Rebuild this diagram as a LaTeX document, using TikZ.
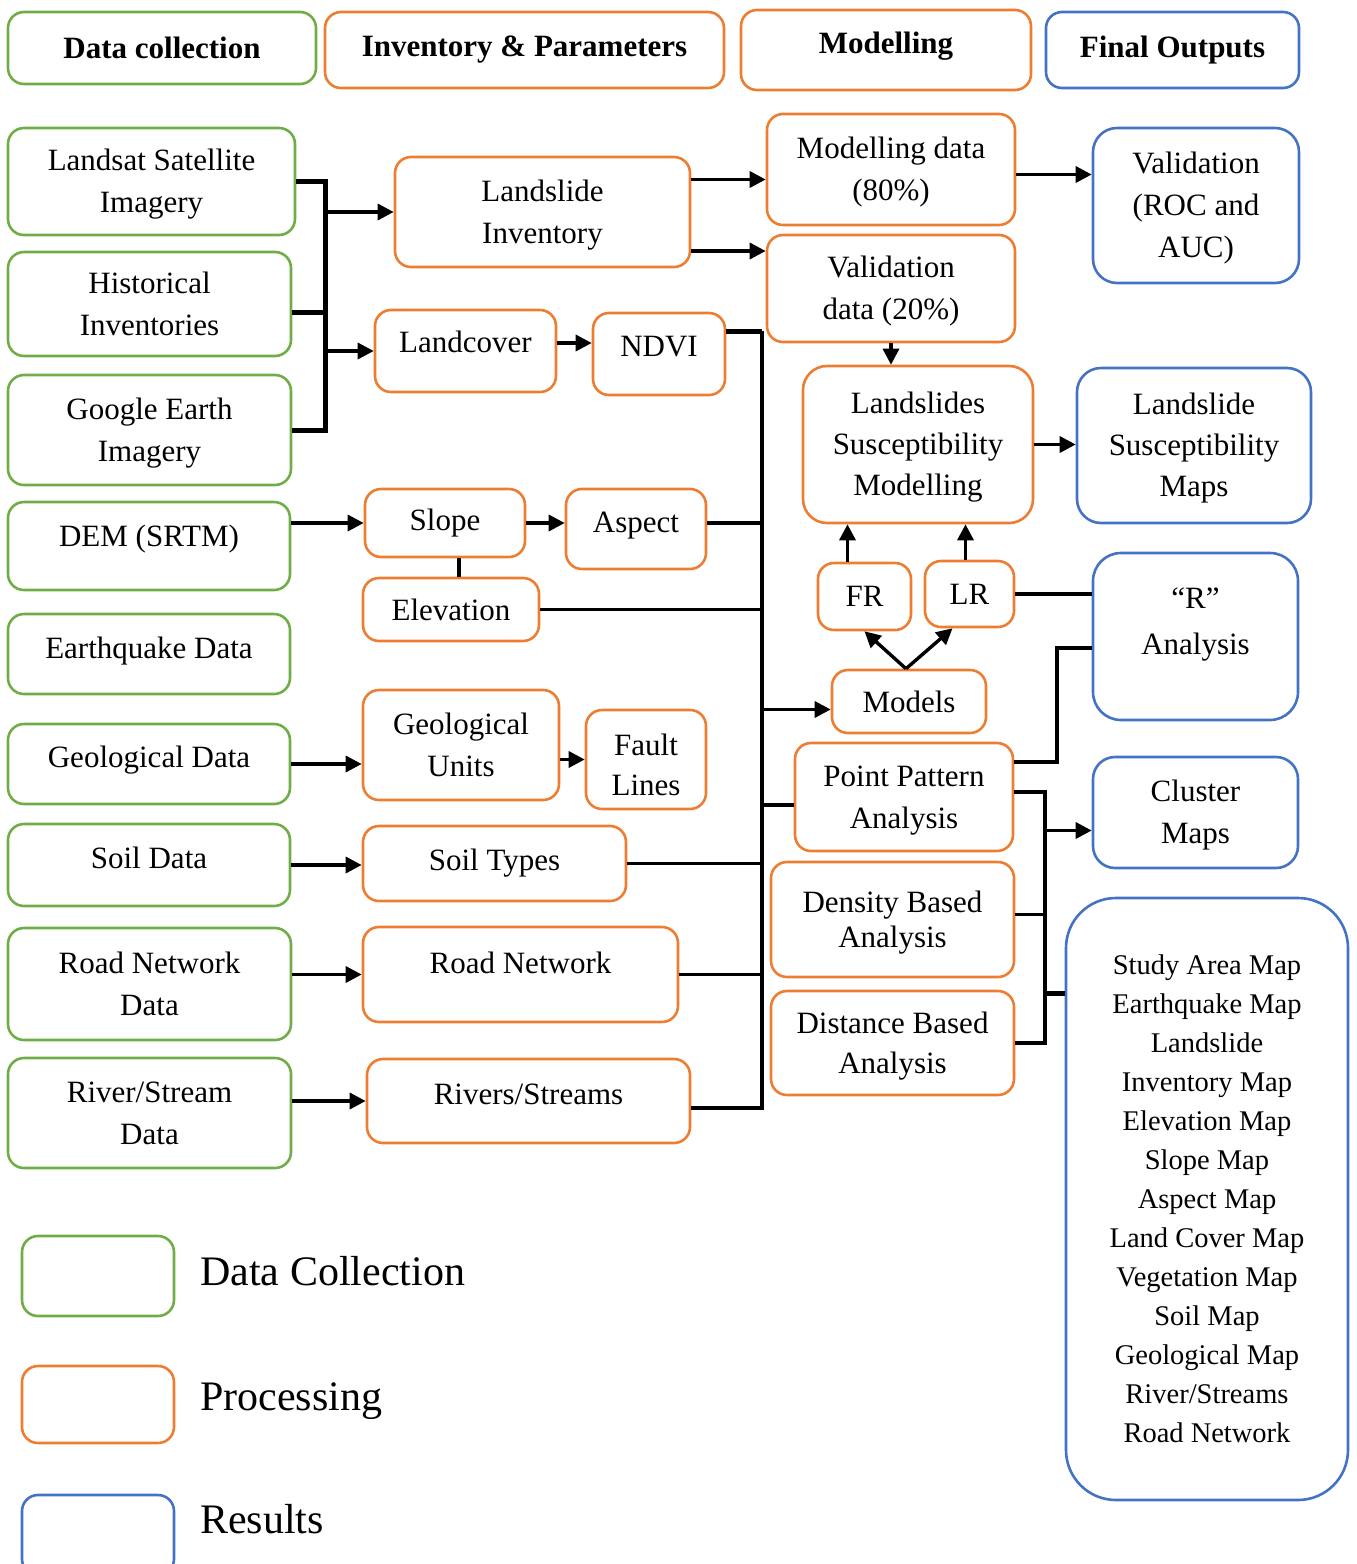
\documentclass[tikz,border=0pt]{standalone}
\usepackage{fontspec}
\setmainfont{Liberation Serif}
\usetikzlibrary{arrows.meta}
\definecolor{dcgreen}{RGB}{112,173,71}
\definecolor{procorange}{RGB}{237,125,49}
\definecolor{resblue}{RGB}{68,114,196}
\begin{document}
\begin{tikzpicture}
  [x=1pt,y=-1pt,
   every node/.style={rounded corners=16pt,line width=2.6pt,align=center,inner sep=3pt,
     font=\fontsize{31}{42}\selectfont},
   sz/.style 2 args={minimum width=#1,minimum height=#2},
   gbox/.style={draw=dcgreen},
   obox/.style={draw=procorange},
   bbox/.style={draw=resblue},
   hd/.style={font=\fontsize{31}{42}\selectfont\bfseries},
   tlift/.style={text depth=#1},
   tl/.style={text height=#1,text depth=6.7pt},
   tl/.default=69.5pt,
   ln/.style={line width=3.4pt},
   bus/.style={line width=5pt},
   arr/.style={line width=3.4pt,-{Triangle[length=16pt,width=16pt]}}]
  \useasboundingbox (0,0) rectangle (1357,1564);

  % column headers
  \node[gbox,hd,sz={308pt}{72pt}] (hdc) at (162,48) {Data collection};
  \node[obox,hd,sz={399pt}{76pt}] (hinv) at (524.5,50) {Inventory \& Parameters};
  \node[obox,hd,sz={290pt}{80pt},tlift=14pt] (hmod) at (886,50) {Modelling};
  \node[bbox,hd,sz={253pt}{76pt}] (hout) at (1172.5,50) {Final Outputs};

  % data collection
  \node[gbox,sz={287pt}{107pt},tl] (landsat) at (151.5,181.5) {Landsat Satellite\\Imagery};
  \node[gbox,sz={283pt}{104pt},tl] (hist) at (149.5,304) {Historical\\Inventories};
  \node[gbox,sz={283pt}{110pt},tl] (google) at (149.5,430) {Google Earth\\Imagery};
  \node[gbox,sz={282pt}{88pt},tlift=20pt] (dem) at (149,546) {DEM (SRTM)};
  \node[gbox,sz={282pt}{80pt},tlift=12pt] (quake) at (149,654) {Earthquake Data};
  \node[gbox,sz={282pt}{80pt},tlift=14pt] (geodata) at (149,764) {Geological Data};
  \node[gbox,sz={282pt}{82pt},tlift=14pt] (soildata) at (149,865) {Soil Data};
  \node[gbox,sz={283pt}{112pt},tl] (roaddata) at (149.5,984) {Road Network\\Data};
  \node[gbox,sz={283pt}{110pt},tl] (riverdata) at (149.5,1113) {River/Stream\\Data};

  % inventory and parameters
  \node[obox,sz={295pt}{110pt},tl] (inv) at (542.5,212) {Landslide\\Inventory};
  \node[obox,sz={181pt}{82pt},tlift=19pt] (lcover) at (465.5,351) {Landcover};
  \node[obox,sz={132pt}{82pt},tlift=16pt] (ndvi) at (659,354) {NDVI};
  \node[obox,sz={160pt}{68pt}] (slope) at (445,523) {Slope};
  \node[obox,sz={140pt}{80pt},tlift=13pt] (aspect) at (636,529) {Aspect};
  \node[obox,sz={176pt}{63pt}] (elev) at (451,609.5) {Elevation};
  \node[obox,sz={196pt}{110pt},tl] (geounits) at (461,745) {Geological\\Units};
  \node[obox,sz={120pt}{99pt},text height=71pt,text depth=0pt,font=\fontsize{31}{40}\selectfont] (fault) at (646,759.5)
    {Fault\\Lines};
  \node[obox,sz={263pt}{75pt}] (soiltypes) at (494.5,863.5) {Soil Types};
  \node[obox,sz={315pt}{95pt},tlift=24pt] (road) at (520.5,974.5) {Road Network};
  \node[obox,sz={323pt}{84pt},tlift=14pt] (rivers) at (528.5,1101) {Rivers/Streams};

  % modelling
  \node[obox,sz={248pt}{111pt},tl] (moddata) at (891,169.5) {Modelling data\\(80\%)};
  \node[obox,sz={248pt}{107pt},tl] (valdata) at (891,288.5) {Validation\\data (20\%)};
  \node[obox,sz={230pt}{157pt},rounded corners=24pt,tl=109.5pt,font=\fontsize{31}{41}\selectfont] (lsm) at (918,444.5)
    {Landslides\\Susceptibility\\Modelling};
  \node[obox,sz={93pt}{67pt}] (fr) at (864.5,596.5) {FR};
  \node[obox,sz={89pt}{66pt}] (lr) at (969.5,594) {LR};
  \node[obox,sz={154pt}{63pt}] (models) at (909,701.5) {Models};
  \node[obox,sz={218pt}{108pt},tl] (ppa) at (904,797) {Point Pattern\\Analysis};
  \node[obox,sz={243pt}{115pt},tl=62.5pt,font=\fontsize{31}{35}\selectfont] (dba) at (892.5,919.5) {Density Based\\Analysis};
  \node[obox,sz={243pt}{104pt},tl=67.5pt,font=\fontsize{31}{40}\selectfont] (dist) at (892.5,1043) {Distance Based\\Analysis};

  % final outputs
  \node[bbox,sz={206pt}{155pt},rounded corners=24pt,tl=111.5pt] (valroc) at (1196,205.5) {Validation\\(ROC and\\AUC)};
  \node[bbox,sz={234pt}{155pt},rounded corners=24pt,tl=109.5pt,font=\fontsize{31}{41}\selectfont] (lsmaps) at (1194,445.5)
    {Landslide\\Susceptibility\\Maps};
  \node[bbox,sz={205pt}{167pt},rounded corners=28pt,text height=73.5pt,text depth=38.5pt,
    font=\fontsize{31}{46}\selectfont] (ranal) at (1195.5,636.5) {“R”\\Analysis};
  \node[bbox,sz={205pt}{111pt},rounded corners=22pt,tl] (cluster) at (1195.5,812.5) {Cluster\\Maps};
  \node[bbox,sz={282pt}{602pt},rounded corners=50pt,font=\fontsize{28.5}{39}\selectfont] (outlist) at (1207,1199)
    {Study Area Map\\Earthquake Map\\Landslide\\Inventory Map\\Elevation Map\\Slope Map\\Aspect Map\\
     Land Cover Map\\Vegetation Map\\Soil Map\\Geological Map\\River/Streams\\Road Network};

  % legend
  \node[gbox,sz={152pt}{80pt}] (legdc) at (98,1276) {};
  \node[obox,sz={152pt}{77pt}] (legpr) at (98,1404.5) {};
  \node[bbox,sz={152pt}{80pt}] (legres) at (98,1535) {};
  \node[anchor=base west,font=\fontsize{42}{48}\selectfont] (legdctxt) at (196,1285) {Data Collection};
  \node[anchor=base west,font=\fontsize{42}{48}\selectfont] (legprtxt) at (196,1410) {Processing};
  \node[anchor=base west,font=\fontsize{42}{48}\selectfont] (legrestxt) at (196,1533) {Results};

  % helper points
  \coordinate (brktop) at (325,181.5);
  \coordinate (brkbot) at (325,430);
  \coordinate (busbot) at (762,1108);
  \coordinate (rjoin) at (1057,648);
  \coordinate (bus2) at (1045,1043);
  \coordinate (listin) at (1045,993);

  % bracket from the imagery sources
  \draw[bus] (landsat.east) -- (brktop) -- (brkbot) -- (google.east);
  \draw[bus] ([yshift=-8pt]hist.east) -- ([yshift=-8pt]hist.east -| brktop);
  \draw[arr] (brktop |- inv.west) -- (inv.west);
  \draw[arr] (brktop |- lcover.west) -- (lcover.west);

  \foreach \from/\to in {dem/slope,roaddata/road,riverdata/rivers}
    \draw[arr] (\from.east |- \to.west) -- (\to.west);
  \foreach \from/\to in {slope/aspect,geodata/geounits,soildata/soiltypes,lsm/lsmaps}
    \draw[arr] (\from.east) -- (\from.east -| \to.west);
  \draw[arr] ([yshift=8pt]lcover.east) -- ([yshift=8pt]lcover.east -| ndvi.west);
  \draw[arr] (fault.west -| geounits.east) -- (fault.west);
  \draw[ln] (slope.south -| 459,0) -- (elev.north -| 459,0);
  \draw[arr] ([yshift=-10pt]moddata.west -| inv.east) -- ([yshift=-10pt]moddata.west);
  \draw[arr] ([yshift=-39pt]inv.east) -- ([yshift=-39pt]inv.east -| valdata.west);

  % main collector line
  \draw[bus] ([yshift=23pt]ndvi.east) -- ([yshift=23pt]ndvi.east -| busbot);
  \draw[ln] ([yshift=23pt]ndvi.east -| busbot) -- (busbot) -- (rivers.east |- busbot);
  \draw[ln] ([yshift=6pt]aspect.east) -- ([yshift=6pt]aspect.east -| busbot);
  \foreach \from in {elev,soiltypes,road}
    \draw[ln] (\from.east) -- (\from.east -| busbot);
  \draw[arr] ([yshift=-8pt]models.west -| busbot) -- ([yshift=-8pt]models.west);
  \draw[ln] ([yshift=-8pt]ppa.west -| busbot) -- ([yshift=-8pt]ppa.west);

  % modelling
  \draw[arr] ([yshift=-5pt]moddata.east) -- ([yshift=-5pt]moddata.east -| valroc.west);
  \draw[arr] (valdata.south) -- (valdata.south |- lsm.north);
  \draw[arr] ([xshift=-17pt]fr.north) -- ([xshift=-17pt]fr.north |- lsm.south);
  \draw[arr] ([xshift=-4pt]lr.north) -- ([xshift=-4pt]lr.north |- lsm.south);
  \draw[arr] ([xshift=-3pt]models.north) -- (fr.south);
  \draw[arr] ([xshift=-3pt]models.north) -- ([xshift=-17pt]lr.south);
  \draw[ln] (lr.east) -- (lr.east -| ranal.west);

  % point pattern outputs
  \draw[ln] ([yshift=35pt]ppa.east) -| (rjoin) -- (rjoin -| ranal.west);
  \draw[ln] ([yshift=5pt]ppa.east) -| (bus2) -- (dist.east);
  \draw[ln] ([yshift=5pt]dba.east) -- ([yshift=5pt]dba.east -| bus2);
  \draw[arr] ([yshift=-18pt]cluster.west -| bus2) -- ([yshift=-18pt]cluster.west);
  \draw[bus] (listin) -- (listin -| outlist.west);
\end{tikzpicture}
\end{document}
